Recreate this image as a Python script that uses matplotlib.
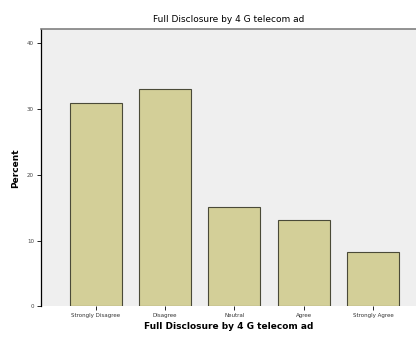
import matplotlib.pyplot as plt
import numpy as np

categories = ["Strongly Disagree", "Disagree", "Neutral", "Agree", "Strongly Agree"]
percent = [30.9, 33.0, 15.1, 13.1, 8.3]
y_ticks = [0, 10, 20, 30, 40]

fig = plt.figure(figsize=(4.16, 3.38), dpi=100)
ax = fig.add_axes([0.0986, 0.0932, 0.9014, 0.821])
ax.set_facecolor('#efefef')

x = np.arange(len(categories))
ax.bar(x, percent, width=0.75, color='#d3cf98', edgecolor='#4a4a38', linewidth=0.8)

ax.set_xlim(-0.79, 4.62)
ax.set_ylim(0, 42.1)
ax.set_yticks(y_ticks)
ax.set_yticklabels([str(t) for t in y_ticks], fontsize=4, color='#444444')
ax.set_xticks(x)
ax.set_xticklabels(categories, fontsize=4, color='#333333')
ax.tick_params(axis='both', length=3, width=0.6, pad=2)

ax.spines['right'].set_visible(False)
ax.spines['top'].set_color('#808080')
ax.spines['top'].set_linewidth(1.2)
ax.spines['left'].set_color('black')
ax.spines['left'].set_linewidth(0.9)
ax.spines['bottom'].set_visible(False)

ax.set_title("Full Disclosure by 4 G telecom ad", fontsize=6.5, pad=5)
ax.set_xlabel("Full Disclosure by 4 G telecom ad", fontsize=6.5, fontweight='bold', labelpad=2.5)
ax.set_ylabel("Percent", fontsize=6.5, fontweight='bold', labelpad=5)

fig.savefig("out.png", dpi=100)
